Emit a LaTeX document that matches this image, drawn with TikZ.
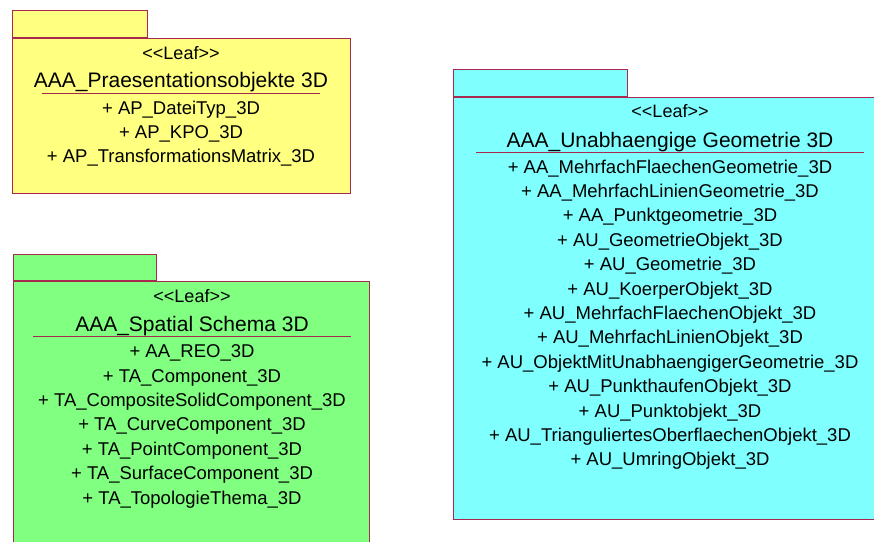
\documentclass[tikz,border=0pt]{standalone}
\usepackage{fontspec}
\setmainfont{Liberation Sans}
\usetikzlibrary{positioning}

\definecolor{pkgline}{RGB}{168,40,80}
\definecolor{leafyellow}{RGB}{255,255,128}
\definecolor{leafgreen}{RGB}{128,255,128}
\definecolor{leafcyan}{RGB}{128,255,255}

\tikzset{
  pkgbody/.style={draw=pkgline,line width=1.2pt,rectangle,inner sep=0pt,anchor=north west},
  pkgtab/.style={draw=pkgline,line width=1.2pt,rectangle,inner sep=0pt,anchor=south west},
  stereo/.style={anchor=base,inner sep=0pt,font=\fontsize{18}{22}\selectfont},
  pkgtitle/.style={anchor=base,inner sep=0pt,font=\fontsize{21}{24}\selectfont},
  members/.style={anchor=north,align=center,inner xsep=5pt,inner ysep=3.9pt,
                  font=\fontsize{18.5}{24.4}\selectfont},
  sepline/.style={draw=pkgline,line width=1pt}
}

\begin{document}
\begin{tikzpicture}[x=1pt,y=-1pt]
\useasboundingbox (0,0) rectangle (874,541);

% yellow package
\node[pkgbody,fill=leafyellow,minimum width=338pt,minimum height=155pt] (praes) at (12,38) {};
\node[pkgtab,fill=leafyellow,minimum width=135pt,minimum height=27pt] (praestab) at (praes.north west) {};
\node[stereo] (praesst) at (181,59) {<{}<Leaf>{}>};
\node[pkgtitle] (praesti) at (181,87) {AAA\_Praesentationsobjekte 3D};
\node[members] (praesmem) at (181,93) {\strut + AP\_DateiTyp\_3D\\ + AP\_KPO\_3D\\ + AP\_TransformationsMatrix\_3D};
\draw[sepline] (praesmem.north west) -- (praesmem.north east);

% green package
\node[pkgbody,fill=leafgreen,minimum width=356pt,minimum height=290pt] (spatial) at (13,281) {};
\node[pkgtab,fill=leafgreen,minimum width=143pt,minimum height=26pt] (spatialtab) at (spatial.north west) {};
\node[stereo] (spatialst) at (192,302) {<{}<Leaf>{}>};
\node[pkgtitle] (spatialti) at (192,331) {AAA\_Spatial Schema 3D};
\node[members] (spatialmem) at (192,336.5) {\strut + AA\_REO\_3D\\ + TA\_Component\_3D\\ + TA\_CompositeSolidComponent\_3D\\
  + TA\_CurveComponent\_3D\\ + TA\_PointComponent\_3D\\ + TA\_SurfaceComponent\_3D\\ + TA\_TopologieThema\_3D};
\draw[sepline] (spatialmem.north west) -- (spatialmem.north east);

% cyan package
\node[pkgbody,fill=leafcyan,minimum width=435pt,minimum height=422pt] (geom) at (453,97) {};
\node[pkgtab,fill=leafcyan,minimum width=174pt,minimum height=27pt] (geomtab) at (geom.north west) {};
\node[stereo] (geomst) at (670,117.5) {<{}<Leaf>{}>};
\node[pkgtitle] (geomti) at (670,147) {AAA\_Unabhaengige Geometrie 3D};
\node[members] (geommem) at (670,152) {\strut + AA\_MehrfachFlaechenGeometrie\_3D\\ + AA\_MehrfachLinienGeometrie\_3D\\
  + AA\_Punktgeometrie\_3D\\ + AU\_GeometrieObjekt\_3D\\ + AU\_Geometrie\_3D\\ + AU\_KoerperObjekt\_3D\\
  + AU\_MehrfachFlaechenObjekt\_3D\\ + AU\_MehrfachLinienObjekt\_3D\\ + AU\_ObjektMitUnabhaengigerGeometrie\_3D\\
  + AU\_PunkthaufenObjekt\_3D\\ + AU\_Punktobjekt\_3D\\ + AU\_TrianguliertesOberflaechenObjekt\_3D\\ + AU\_UmringObjekt\_3D};
\draw[sepline] (geommem.north west) -- (geommem.north east);
\end{tikzpicture}
\end{document}
